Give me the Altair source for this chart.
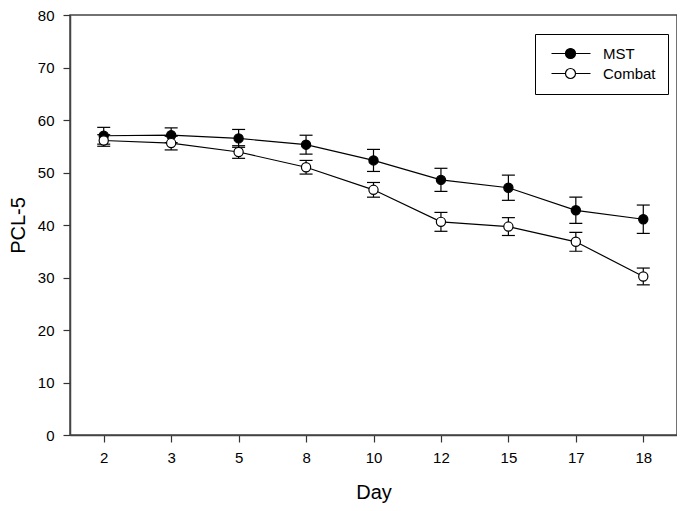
import altair as alt
import pandas as pd

days = ["2", "3", "5", "8", "10", "12", "15", "17", "18"]
mst_mean = [57.0, 57.1, 56.5, 55.3, 52.3, 48.6, 47.1, 42.8, 41.1]
mst_err = [1.6, 1.4, 1.7, 1.8, 2.1, 2.2, 2.4, 2.5, 2.7]
combat_mean = [56.1, 55.6, 53.9, 51.0, 46.7, 40.6, 39.7, 36.8, 30.2]
combat_err = [1.1, 1.3, 1.2, 1.3, 1.4, 1.8, 1.7, 1.8, 1.6]
groups = ["MST", "Combat"]

rows = []
for g, means, errs in [("MST", mst_mean, mst_err), ("Combat", combat_mean, combat_err)]:
    for d, m, e in zip(days, means, errs):
        rows.append({"Day": d, "Group": g, "Mean": m, "lo": m - e, "hi": m + e})
df = pd.DataFrame(rows)

FONT = "Liberation Sans"
INK = "black"

xenc = alt.X(
    "Day:O",
    sort=days,
    scale=alt.Scale(type="point", padding=0.5),
    axis=alt.Axis(title="Day", labelAngle=0, tickSize=7, labelPadding=8, titlePadding=17, grid=False),
)
yscale = alt.Scale(domain=[0, 80], nice=False, zero=True)
yaxis = alt.Axis(title="PCL-5", values=list(range(0, 81, 10)), tickSize=7, labelPadding=9, titlePadding=9, grid=False)

base = alt.Chart(df).encode(x=xenc)

line = base.mark_line(color=INK, strokeWidth=1.2).encode(
    y=alt.Y("Mean:Q", scale=yscale, axis=yaxis), detail="Group:N"
)
rule = base.mark_rule(color=INK, strokeWidth=1.2).encode(y=alt.Y("lo:Q", scale=yscale), y2="hi:Q")
cap_lo = base.mark_tick(color=INK, thickness=1.2, size=13, opacity=1).encode(y=alt.Y("lo:Q", scale=yscale))
cap_hi = base.mark_tick(color=INK, thickness=1.2, size=13, opacity=1).encode(y=alt.Y("hi:Q", scale=yscale))

sym_path = "M-0.6,0L2.2,0M4.2,0L7.2,0M2.2,0A1,1 0 1,0 4.2,0A1,1 0 1,0 2.2,0Z"

pts = base.mark_point(shape="circle", filled=True, size=85, stroke=INK, strokeWidth=1.2, opacity=1).encode(
    y=alt.Y("Mean:Q", scale=yscale),
    fill=alt.Fill(
        "Group:N",
        scale=alt.Scale(domain=groups, range=["black", "white"]),
        legend=alt.Legend(
            title=None,
            orient="none",
            legendX=465,
            legendY=19,
            symbolType=sym_path,
            symbolSize=100,
            symbolStrokeColor=INK,
            symbolStrokeWidth=1.2,
            symbolOpacity=1,
            labelOffset=41,
            padding=12,
            strokeColor=INK,
            fillColor="white",
            labelFont=FONT,
            labelFontSize=15,
            labelColor=INK,
            rowPadding=4,
        ),
    ),
)

chart = (
    alt.layer(line, rule, cap_lo, cap_hi, pts)
    .properties(
        width=607,
        height=420,
        autosize=alt.AutoSizeParams(type="none"),
        padding={"left": 62, "top": 7, "right": 0, "bottom": 68},
    )
    .configure_view(stroke="#444", strokeWidth=1.5)
    .configure_axis(
        domainColor="#444",
        domainWidth=1.5,
        tickColor="#333",
        tickWidth=1.2,
        labelFont=FONT,
        labelFontSize=15,
        labelColor=INK,
        titleFont=FONT,
        titleFontSize=20,
        titleFontWeight="normal",
        titleColor=INK,
    )
)

chart.save("out.html", embed_options={"renderer": "svg", "actions": False})
